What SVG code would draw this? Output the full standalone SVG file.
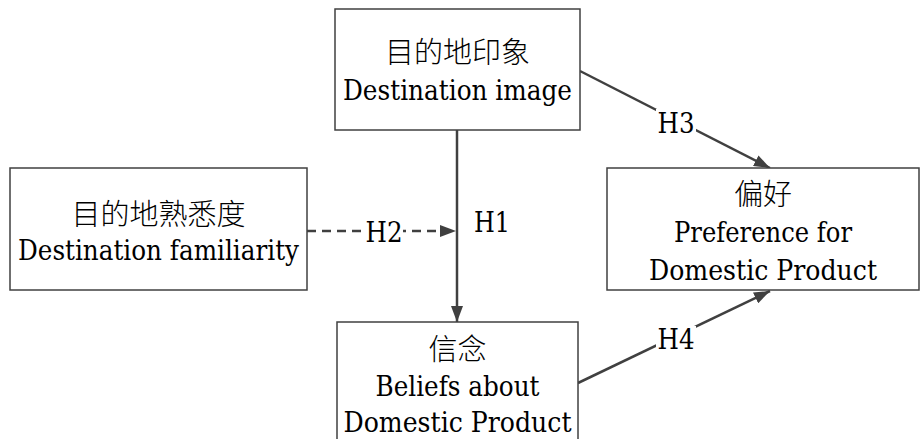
<svg xmlns="http://www.w3.org/2000/svg" width="923" height="439" viewBox="0 0 923 439">
  <defs>
    <marker id="arrow" viewBox="0 0 16 12" refX="16" refY="6" markerWidth="16" markerHeight="12" markerUnits="userSpaceOnUse" orient="auto">
      <path d="M0,0 L16,6 L0,12 Z" fill="#404040"/>
    </marker>
    <style>
      .box { fill: #ffffff; stroke: #404040; stroke-width: 1.5; }
      .t { font-family: "DejaVu Serif", "Liberation Serif", serif; font-size: 28px; fill: #000000; text-anchor: middle; }
      .cjk { font-family: "Noto Sans CJK SC", "Noto Sans CJK TC", sans-serif; font-size: 29px; font-weight: 300; fill: #000000; text-anchor: middle; }
      .link { stroke: #404040; stroke-width: 2.5; fill: none; }
      .dash { stroke-dasharray: 9 6; }
      .lbl { font-family: "DejaVu Serif", "Liberation Serif", serif; font-size: 28px; fill: #000000; }
      .lblbg { fill: #ffffff; }
    </style>
  </defs>

  <g id="connectors">
    <line class="link" x1="457" y1="130" x2="457" y2="322" marker-end="url(#arrow)"/>
    <line class="link dash" x1="307" y1="231" x2="456" y2="231" marker-end="url(#arrow)"/>
    <line class="link" x1="580" y1="71" x2="770" y2="168" marker-end="url(#arrow)"/>
    <line class="link" x1="578" y1="383" x2="770" y2="291" marker-end="url(#arrow)"/>
    <rect class="lblbg" x="365" y="218" width="38" height="26"/>
    <text class="lbl" x="384" y="242" text-anchor="middle" textLength="37" lengthAdjust="spacingAndGlyphs">H2</text>
    <text class="lbl" x="474" y="232" textLength="36" lengthAdjust="spacingAndGlyphs">H1</text>
    <rect class="lblbg" x="656" y="109" width="40" height="26"/>
    <text class="lbl" x="676" y="133" text-anchor="middle" textLength="37" lengthAdjust="spacingAndGlyphs">H3</text>
    <rect class="lblbg" x="656" y="326" width="40" height="24"/>
    <text class="lbl" x="676" y="349" text-anchor="middle" textLength="37" lengthAdjust="spacingAndGlyphs">H4</text>
  </g>

  <g id="destination-image">
    <rect class="box" x="335" y="9" width="245" height="121"/>
    <text class="cjk" x="457.5" y="63">目的地印象</text>
    <text class="t" x="457.5" y="100" textLength="229" lengthAdjust="spacingAndGlyphs">Destination image</text>
  </g>

  <g id="destination-familiarity">
    <rect class="box" x="10" y="168" width="297" height="122"/>
    <text class="cjk" x="158.5" y="225">目的地熟悉度</text>
    <text class="t" x="158.5" y="260" textLength="281" lengthAdjust="spacingAndGlyphs">Destination familiarity</text>
  </g>

  <g id="preference">
    <rect class="box" x="607" y="168" width="312" height="122"/>
    <text class="cjk" x="763" y="205">偏好</text>
    <text class="t" x="763" y="242" textLength="178" lengthAdjust="spacingAndGlyphs">Preference for</text>
    <text class="t" x="763" y="280" textLength="228" lengthAdjust="spacingAndGlyphs">Domestic Product</text>
  </g>

  <g id="beliefs">
    <rect class="box" x="337" y="322" width="241" height="125"/>
    <text class="cjk" x="457.5" y="360">信念</text>
    <text class="t" x="457.5" y="396" textLength="164" lengthAdjust="spacingAndGlyphs">Beliefs about</text>
    <text class="t" x="457.5" y="432" textLength="228" lengthAdjust="spacingAndGlyphs">Domestic Product</text>
  </g>
</svg>
